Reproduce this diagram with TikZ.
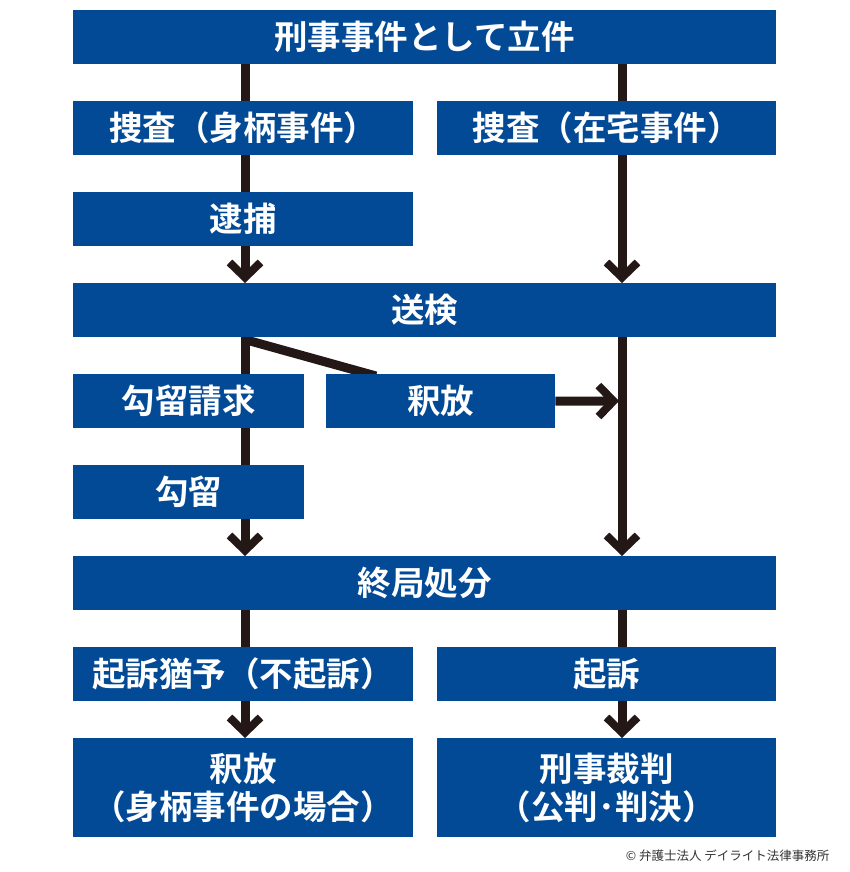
\documentclass[tikz,border=0pt]{standalone}
\usepackage{fontspec}
\newfontfamily\jpfont{Noto Sans CJK JP}[BoldFont={Noto Sans CJK JP Bold}]
\usepackage{tikz}
\usetikzlibrary{arrows.meta,backgrounds}

\definecolor{boxblue}{RGB}{3,74,150}
\definecolor{inkline}{RGB}{35,24,21}

\tikzset{
  box/.style={anchor=north west,fill=boxblue,text=white,inner sep=0pt,
    minimum height=54pt,align=center,
    font=\jpfont\bfseries\fontsize{33.5}{38}\selectfont},
  flow/.style={draw=inkline,line width=9pt},
  flowarrow/.style={flow,-{Straight Barb[length=15pt,width=31pt,line width=8pt]}},
}

\begin{document}
\begin{tikzpicture}[x=1pt,y=-1pt]
  \useasboundingbox (0,0) rectangle (850,872);
  % column positions of the two flow lines
  \coordinate (lcol) at (245,0);
  \coordinate (rcol) at (622,0);
  % boxes
  \node[box,minimum width=703pt] (rikken) at (73,10) {刑事事件として立件};
  \node[box,minimum width=340pt] (sousaA) at (73,101) {捜査（身柄事件）};
  \node[box,minimum width=339pt] (sousaB) at (437,101) {捜査（在宅事件）};
  \node[box,minimum width=340pt] (taiho) at (73,192) {逮捕};
  \node[box,minimum width=703pt] (souken) at (73,283) {送検};
  \node[box,minimum width=231pt] (seikyu) at (73,374) {勾留請求};
  \node[box,minimum width=229pt] (shakuhoA) at (326,374) {釈放};
  \node[box,minimum width=231pt] (koryu) at (73,465) {勾留};
  \node[box,minimum width=703pt] (shobun) at (73,556) {終局処分};
  \node[box,minimum width=340pt] (fukiso) at (73,647) {起訴猶予（不起訴）};
  \node[box,minimum width=339pt] (kiso) at (437,647) {起訴};
  \node[box,minimum width=340pt,minimum height=99pt] (shakuhoB) at (73,738)
    {釈放\\（身柄事件の場合）};
  \node[box,minimum width=339pt,minimum height=99pt] (saiban) at (437,738)
    {刑事裁判\\（公判･判決）};
  \coordinate (merge) at (619,401);
  \node[anchor=east,text=black!80,font=\jpfont\fontsize{12.5}{14}\selectfont]
    (credit) at (833,856) {© 弁護士法人 デイライト法律事務所};
  % connectors behind the boxes
  \begin{scope}[on background layer]
    \draw[flowarrow] (rikken.south -| lcol) -- (souken.north -| lcol);
    \draw[flowarrow] (rikken.south -| rcol) -- (souken.north -| rcol);
    \draw[flowarrow] (souken.south -| lcol) -- (shobun.north -| lcol);
    \draw[flowarrow] (souken.south -| rcol) -- (shobun.north -| rcol);
    \draw[flow] ([xshift=3pt,yshift=-3pt]souken.south -| lcol)
      -- ([xshift=50pt,yshift=-2pt]shakuhoA.north west);
    \draw[flowarrow] (shakuhoA.east) -- (merge);
    \draw[flowarrow] (shobun.south -| lcol) -- (shakuhoB.north -| lcol);
    \draw[flowarrow] (shobun.south -| rcol) -- (saiban.north -| rcol);
  \end{scope}
\end{tikzpicture}
\end{document}
